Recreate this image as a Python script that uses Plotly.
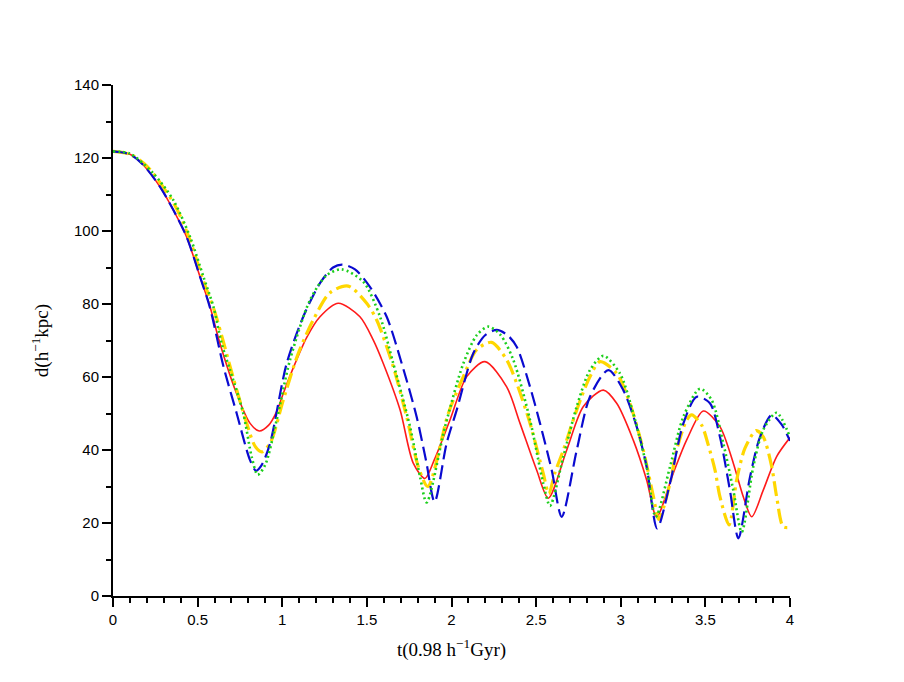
import plotly.graph_objects as go

# red solid
t_red = [0, 0.1, 0.179, 0.278, 0.356, 0.435, 0.514, 0.573, 0.632, 0.73, 0.81, 0.864, 0.92, 0.967, 1.006,
         1.065, 1.144, 1.223, 1.331, 1.459, 1.538, 1.597, 1.696, 1.774, 1.843, 1.9, 1.991, 2.09, 2.198,
         2.326, 2.405, 2.503, 2.572, 2.681, 2.779, 2.897, 2.976, 3.074, 3.153, 3.212, 3.31, 3.389, 3.488,
         3.586, 3.665, 3.724, 3.774, 3.842, 3.921, 4.0]
d_red = [121.8, 121, 118.1, 112.1, 105.8, 98.4, 87.5, 79.3, 69.2, 55.5, 47.3, 45.2, 46.8, 50.5, 55.5,
         62.5, 70.8, 76.5, 80.2, 76.5, 70.1, 63.7, 51, 36.4, 32.2, 37.5, 48.2, 60.1, 64.2,
         57.3, 47.3, 34.5, 26.8, 40, 51.9, 56.4, 52.8, 42.7, 31.8, 21.7, 33.6, 42.7, 50.7,
         46.4, 36.4, 27.2, 21.7, 29, 38.2, 43.4]

# blue dashed
t_blue = [0, 0.1, 0.179, 0.278, 0.356, 0.435, 0.514, 0.573, 0.652, 0.731, 0.809, 0.845, 0.88, 0.928,
          1.026, 1.124, 1.223, 1.3, 1.355, 1.43, 1.518, 1.617, 1.706, 1.794, 1.85, 1.9, 1.971, 2.031,
          2.129, 2.2, 2.267, 2.33, 2.385, 2.464, 2.523, 2.592, 2.651, 2.74, 2.818, 2.927, 3.015, 3.094, 3.153,
          3.215, 3.291, 3.37, 3.449, 3.527, 3.586, 3.645, 3.695, 3.764, 3.823, 3.892, 3.95, 4.0]
d_blue = [121.8, 121, 118.1, 112.1, 105.8, 98.4, 87.5, 79, 63, 50, 37.3, 34.3, 36, 41.8,
          63.7, 76.5, 85.7, 90, 90.8, 89.5, 84.7, 76.5, 63.7, 49.1, 37, 25.8, 41.8, 51,
          66.5, 71.5, 72.9, 71.5, 68.3, 57.3, 47.3, 34.5, 21.7, 40, 54.6, 61.9, 56.4, 46.4, 35.4,
          18.5, 30.9, 47.3, 54.6, 52.8, 43.6, 29, 15.8, 32.7, 43.6, 49.6, 47, 42.5]

# yellow dash-dot
t_yel = [0, 0.1, 0.2, 0.366, 0.455, 0.525, 0.6, 0.65, 0.7, 0.79, 0.84, 0.88, 0.93, 1.006, 1.095, 1.183,
         1.282, 1.39, 1.499, 1.558, 1.656, 1.735, 1.804, 1.86, 1.981, 2.07, 2.149, 2.237, 2.326, 2.385,
         2.464, 2.542, 2.575, 2.61, 2.661, 2.74, 2.818, 2.877, 2.976, 3.054, 3.133, 3.193, 3.225, 3.291,
         3.33, 3.39, 3.419, 3.478, 3.517, 3.557, 3.586, 3.64, 3.685, 3.734, 3.8, 3.842, 3.892, 3.921,
         3.96, 4.0]
d_yel = [121.8, 121, 117.8, 107, 97.5, 87.5, 78, 70, 61.5, 47.3, 41, 39.5, 42, 53.7, 66.5, 75.6,
         83.1, 84.9, 80.2, 75.6, 62.8, 49.1, 35.4, 30, 50, 60.1, 67.5, 69.5, 64.7, 58.3,
         47.3, 33.6, 28, 33.6, 40, 51, 60.1, 64.2, 61, 52.8, 40, 27.2, 21, 30.9,
         40, 48.2, 49.6, 46.8, 41.4, 34.5, 27.2, 19.5, 31.8, 40.5, 45.3, 43.6, 35.4, 27.2,
         19, 18.8]

# green dotted
t_grn = [0, 0.1, 0.238, 0.356, 0.455, 0.534, 0.593, 0.642, 0.691, 0.77, 0.82, 0.855, 0.9, 0.967, 1.046,
         1.164, 1.263, 1.351, 1.479, 1.578, 1.656, 1.755, 1.814, 1.853, 1.962, 2.07, 2.15, 2.218, 2.29,
         2.365, 2.464, 2.542, 2.582, 2.661, 2.74, 2.818, 2.897, 2.995, 3.074, 3.153, 3.207, 3.291, 3.37,
         3.468, 3.537, 3.606, 3.665, 3.715, 3.783, 3.842, 3.921, 4.0]
d_grn = [121.8, 121.2, 115.8, 108.5, 98.4, 87.5, 79.3, 69.2, 62, 50, 38, 33.2, 36, 48.2, 64.7,
         81.1, 87.9, 89.5, 86.1, 76.5, 63.7, 46.4, 32.7, 25.6, 46.4, 63.7, 71.5, 73.8, 71.5,
         64.7, 48.2, 30.9, 24.7, 38.2, 51.9, 61.9, 65.8, 61, 50, 35.4, 21.7, 35.4, 49.1,
         56.8, 53.7, 41.8, 29, 17.5, 35.4, 45.5, 50.2, 43.5]

x_ticks = [0, 0.5, 1, 1.5, 2, 2.5, 3, 3.5, 4]
x_ticklabels = ["0", "0.5", "1", "1.5", "2", "2.5", "3", "3.5", "4"]
y_ticks = [0, 20, 40, 60, 80, 100, 120, 140]

fig = go.Figure()
fig.add_trace(go.Scatter(x=t_red, y=d_red, mode="lines",
                         line=dict(color="#ff1a1a", width=1.6, shape="spline", smoothing=0.8)))
fig.add_trace(go.Scatter(x=t_yel, y=d_yel, mode="lines",
                         line=dict(color="#ffd700", width=3.2, dash="15px,5px,3px,5px",
                                   shape="spline", smoothing=0.8)))
fig.add_trace(go.Scatter(x=t_blue, y=d_blue, mode="lines",
                         line=dict(color="#0a0ad0", width=2.2, dash="14px,6px",
                                   shape="spline", smoothing=0.8)))
fig.add_trace(go.Scatter(x=t_grn, y=d_grn, mode="lines",
                         line=dict(color="#1ccf1c", width=2.6, dash="2px,3px",
                                   shape="spline", smoothing=0.8)))

tickfont = dict(family="Liberation Sans, Arial, sans-serif", size=15, color="black")
titlefont = dict(family="Liberation Serif, DejaVu Serif, serif", size=19, color="black")

fig.update_layout(
    width=904, height=682,
    paper_bgcolor="white", plot_bgcolor="white",
    showlegend=False,
    margin=dict(l=105, r=122, t=77, b=94),
    xaxis=dict(range=[0, 4], tickvals=x_ticks, ticktext=x_ticklabels, showgrid=False, zeroline=False,
               showline=True, linecolor="black", linewidth=2, ticks="outside", ticklen=9, tickwidth=1.5,
               tickcolor="black", tickfont=tickfont,
               minor=dict(dtick=0.1, ticks="outside", ticklen=5, tickwidth=1.5, tickcolor="black", showgrid=False),
               title=dict(text="t(0.98 h<sup>−1</sup>Gyr)", font=titlefont, standoff=16)),
    yaxis=dict(range=[0, 140], tickvals=y_ticks, showgrid=False, zeroline=False,
               showline=True, linecolor="black", linewidth=2, ticks="outside", ticklen=9, tickwidth=1.5,
               tickcolor="black", tickfont=tickfont,
               minor=dict(dtick=10, ticks="outside", ticklen=5, tickwidth=1.5, tickcolor="black", showgrid=False),
               title=dict(text="d(h<sup>−1</sup>kpc)", font=titlefont, standoff=20)),
)

fig.write_html("out.html")
